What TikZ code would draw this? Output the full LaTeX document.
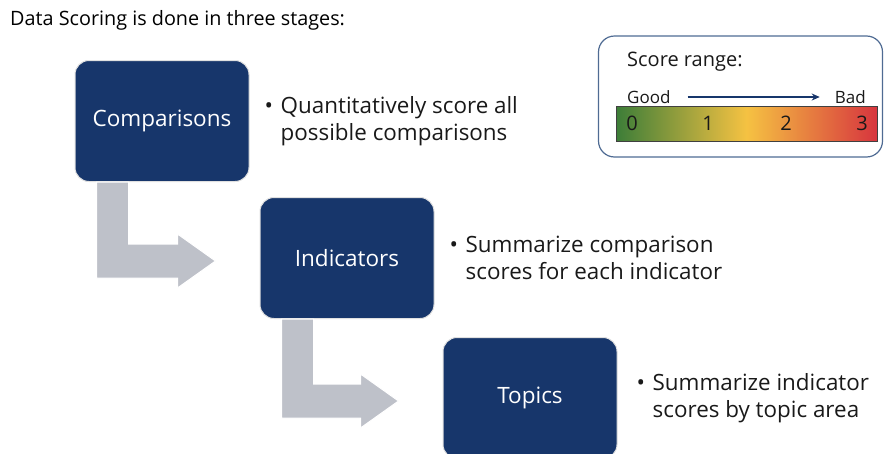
\documentclass[tikz,border=0pt]{standalone}
\usepackage{fontspec}
\setmainfont{Open Sans}
\usetikzlibrary{positioning,calc,arrows.meta}

\definecolor{navy}{HTML}{17366B}
\definecolor{arrowgray}{HTML}{BEC1C9}
\definecolor{scoregreen}{HTML}{3C7D38}
\definecolor{scoreyellow}{HTML}{F5C242}
\definecolor{scorered}{HTML}{D7353E}
\definecolor{rangeframe}{HTML}{4F6B93}

% bent block arrow from under one stage to the next
\newcommand{\stagearrow}[2]{%
  \filldraw[fill=arrowgray, draw=white, line width=1pt]
  ($(#1.south west)+(22,0)$) coordinate (sa) -- ++(32,0) |- ($(#2.west)+(-82,-14)$)
  -- ++(0,-10) -- ($(#2.west)+(-44,3)$) -- ($(#2.west)+(-82,30)$) -- ++(0,-10) -| (sa) -- cycle;}
\newcommand{\bulletline}[2]{\makebox[16pt][l]{\textbullet}#1\\\hspace*{16pt}#2}

\begin{document}
\begin{tikzpicture}[x=1pt,y=-1pt,
  stage/.style={draw=black!12, line width=1pt, fill=navy, rounded corners=14pt,
    minimum width=174pt, minimum height=121pt, text=white, font=\fontsize{22.5}{26}\selectfont},
  note/.style={align=left, inner sep=0pt, text=black!90, font=\fontsize{22.4}{27}\selectfont},
  small/.style={inner sep=0pt, text=black!90, font=\fontsize{17}{20}\selectfont}]
	\useasboundingbox (0,0) rectangle (887,453);
	% heading
	\node[anchor=west, inner sep=0pt, font=\fontsize{19.8}{23}\selectfont] (title) at (10,20)
	{Data Scoring is done in three stages:};
	% stages
	\node[stage] (cmp) at (162,121) {Comparisons};
	\node[stage] (ind) at (347,258) {Indicators};
	\node[stage] (top) at (530,398) {Topics};
	\stagearrow{cmp}{ind}
	\stagearrow{ind}{top}
	\node[note, right=15pt of cmp] (cmpnote) {\bulletline{Quantitatively score all}{possible comparisons}};
	\node[note, right=15pt of ind] (indnote) {\bulletline{Summarize comparison}{scores for each indicator}};
	\node[note, right=19pt of top] (topnote) {\bulletline{Summarize indicator}{scores by topic area}};
	% score range
	\node[draw=rangeframe, line width=1.2pt, rounded corners=16pt,
	minimum width=284pt, minimum height=121pt] (range) at (740.5,96.5) {};
	\node[small, anchor=west, font=\fontsize{20}{23}\selectfont] (rangelbl) at (627,62) {Score range:};
	\node[small, anchor=west] (good) at (627,97) {Good};
	\node[small, anchor=east] (bad) at (866,97) {Bad};
	\draw[navy, line width=2pt, -{Stealth[length=8pt,width=7pt]}, shorten <=17pt, shorten >=15pt]
	(good.east) -- (bad.west);
	\node[draw=black!75, line width=0.8pt, left color=scoregreen, right color=scorered,
	middle color=scoreyellow, minimum width=261pt, minimum height=35pt] (bar) at (746.5,123.5) {};
	\foreach \n/\x in {0/632,1/708,2/786,3/862}
	\node[small, font=\fontsize{20}{24}\selectfont] (s\n) at (\x,123) {\n};
\end{tikzpicture}
\end{document}
